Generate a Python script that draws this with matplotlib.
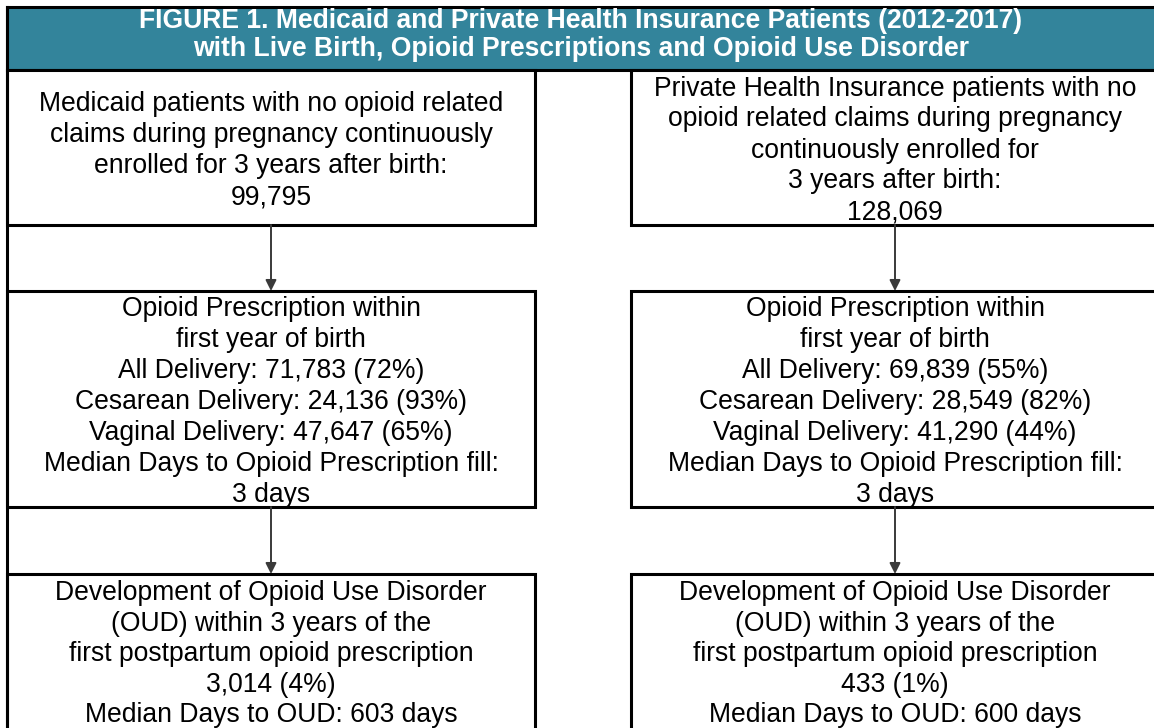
import matplotlib
matplotlib.use("Agg")
import matplotlib.pyplot as plt
from matplotlib.patches import Rectangle

plt.rcParams["font.family"] = ["Liberation Sans", "DejaVu Sans"]

W, H = 1154, 728

title_lines = [
    "FIGURE 1. Medicaid and Private Health Insurance Patients (2012-2017)",
    "with Live Birth, Opioid Prescriptions and Opioid Use Disorder",
]

medicaid_text = [
    "Medicaid patients with no opioid related\n"
    "claims during pregnancy continuously\n"
    "enrolled for 3 years after birth:\n"
    "99,795",
    "Opioid Prescription within\n"
    "first year of birth\n"
    "All Delivery: 71,783 (72%)\n"
    "Cesarean Delivery: 24,136 (93%)\n"
    "Vaginal Delivery: 47,647 (65%)\n"
    "Median Days to Opioid Prescription fill:\n"
    "3 days",
    "Development of Opioid Use Disorder\n"
    "(OUD) within 3 years of the\n"
    "first postpartum opioid prescription\n"
    "3,014 (4%)\n"
    "Median Days to OUD: 603 days",
]

private_text = [
    "Private Health Insurance patients with no\n"
    "opioid related claims during pregnancy\n"
    "continuously enrolled for\n"
    "3 years after birth:\n"
    "128,069",
    "Opioid Prescription within\n"
    "first year of birth\n"
    "All Delivery: 69,839 (55%)\n"
    "Cesarean Delivery: 28,549 (82%)\n"
    "Vaginal Delivery: 41,290 (44%)\n"
    "Median Days to Opioid Prescription fill:\n"
    "3 days",
    "Development of Opioid Use Disorder\n"
    "(OUD) within 3 years of the\n"
    "first postpartum opioid prescription\n"
    "433 (1%)\n"
    "Median Days to OUD: 600 days",
]

# layout in pixel units (y grows downward)
col_x = [(7, 535), (631, 1160)]
col_cx = [271, 895]
row_y = [(70, 225), (291, 507), (574, 740)]
header_color = "#33849B"
fs = 19.1

fig = plt.figure(figsize=(W / 100, H / 100), dpi=100)
ax = fig.add_axes([0, 0, 1, 1])
ax.set_xlim(0, W)
ax.set_ylim(H, 0)
ax.axis("off")

# header band
ax.add_patch(Rectangle((7, 7), W, 63, facecolor=header_color, edgecolor="black", linewidth=2.2))
ax.text(W / 2 + 4, 35, "\n".join(title_lines), ha="center", va="center",
        color="white", fontsize=fs, fontweight="bold", linespacing=1.1)

# outer left border
ax.plot([7, 7], [7, H + 5], color="black", linewidth=2.2)

for (x0, x1), cx, texts in zip(col_x, col_cx, [medicaid_text, private_text]):
    for i, ((y0, y1), txt) in enumerate(zip(row_y, texts)):
        ax.add_patch(Rectangle((x0, y0), x1 - x0, y1 - y0, facecolor="white",
                               edgecolor="black", linewidth=2.2))
        if i < 2:
            ax.text(cx, (y0 + y1) / 2 + 3, txt, ha="center", va="center",
                    fontsize=fs, color="black", linespacing=1.25)
        else:
            ax.text(cx, y0 + 6, txt, ha="center", va="top",
                    fontsize=fs, color="black", linespacing=1.23)
        if i > 0:
            ax.annotate("", xy=(cx, y0), xytext=(cx, row_y[i - 1][1]),
                        arrowprops=dict(arrowstyle="-|>", color="#3a3a3a", lw=1.4,
                                        mutation_scale=16, shrinkA=0, shrinkB=0))

fig.savefig("out.png", dpi=100)
